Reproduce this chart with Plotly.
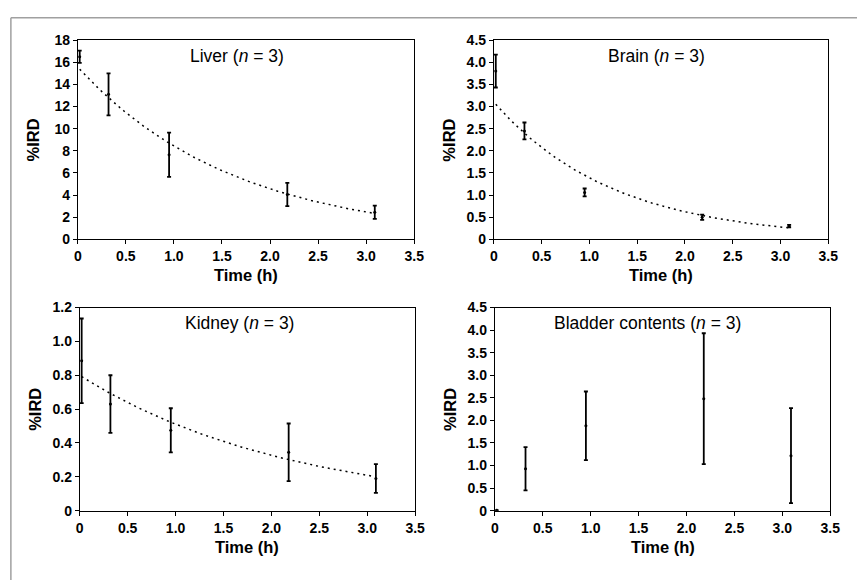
import numpy as np
import plotly.graph_objects as go

# sampling times (h), same for every organ
time_h = [0.02, 0.32, 0.95, 2.18, 3.09]

liver_ird = [16.5, 13.1, 7.65, 4.05, 2.45]
liver_err = [0.55, 1.9, 2.0, 1.05, 0.6]

brain_ird = [3.8, 2.45, 1.06, 0.5, 0.3]
brain_err = [0.37, 0.19, 0.09, 0.06, 0.03]

kidney_ird = [0.885, 0.63, 0.475, 0.345, 0.19]
kidney_err = [0.25, 0.17, 0.13, 0.17, 0.085]

bladder_ird = [0.01, 0.93, 1.88, 2.48, 1.22]
bladder_err = [0.0, 0.48, 0.76, 1.45, 1.05]

x_tickvals = [0, 0.5, 1.0, 1.5, 2.0, 2.5, 3.0, 3.5]
x_ticktext = ["0", "0.5", "1.0", "1.5", "2.0", "2.5", "3.0", "3.5"]

liver_ticks = [0, 2, 4, 6, 8, 10, 12, 14, 16, 18]
liver_ticktext = [str(v) for v in liver_ticks]
half_ticks = [0, 0.5, 1.0, 1.5, 2.0, 2.5, 3.0, 3.5, 4.0, 4.5]
half_ticktext = ["0", "0.5", "1.0", "1.5", "2.0", "2.5", "3.0", "3.5", "4.0", "4.5"]
kidney_ticks = [0, 0.2, 0.4, 0.6, 0.8, 1.0, 1.2]
kidney_ticktext = ["0", "0.2", "0.4", "0.6", "0.8", "1.0", "1.2"]

FONT = "Liberation Sans, Arial, sans-serif"
W, H = 857, 580

panels = [
    # name, y, err, trend, ymax, ticks, ticktext, px box (l, r, t, b), title x
    ("Liver", liver_ird, liver_err, True, 18, liver_ticks, liver_ticktext,
     (75, 417, 33, 238), 0.472),
    ("Brain", brain_ird, brain_err, True, 4.5, half_ticks, half_ticktext,
     (498, 838, 33, 238), 0.485),
    ("Kidney", kidney_ird, kidney_err, True, 1.2, kidney_ticks, kidney_ticktext,
     (77, 418, 308, 517), 0.475),
    ("Bladder contents", bladder_ird, bladder_err, False, 4.5, half_ticks,
     half_ticktext, (499, 840, 308, 517), 0.456),
]

fig = go.Figure()
layout = {}
annotations = []

for i, (name, ys, errs, trend, ymax, yt, ytt, box, tx) in enumerate(panels, start=1):
    xa = "x" if i == 1 else f"x{i}"
    ya = "y" if i == 1 else f"y{i}"
    l, r, t, b = box

    if trend:
        # Excel-style exponential trendline fitted on the data
        k, c = np.polyfit(time_h, np.log(ys), 1)
        tf = np.linspace(min(time_h), max(time_h), 80)
        fig.add_trace(
            go.Scatter(
                x=tf,
                y=np.exp(c) * np.exp(k * tf),
                mode="lines",
                line=dict(color="black", width=1.5, dash="2px,4px"),
                hoverinfo="skip",
                xaxis=xa,
                yaxis=ya,
            )
        )

    fig.add_trace(
        go.Scatter(
            x=time_h,
            y=ys,
            mode="markers",
            marker=dict(color="black", size=3),
            error_y=dict(
                type="data", array=errs, color="black", thickness=1.8, width=2
            ),
            xaxis=xa,
            yaxis=ya,
        )
    )

    axis_common = dict(
        showline=True,
        mirror=True,
        linecolor="black",
        linewidth=1,
        ticks="outside",
        ticklen=4,
        tickcolor="black",
        showgrid=False,
        zeroline=False,
        tickfont=dict(family=FONT, size=14, color="black", weight="bold"),
    )
    layout["xaxis" if i == 1 else f"xaxis{i}"] = dict(
        axis_common,
        domain=[l / W, r / W],
        range=[0, 3.5],
        tickvals=x_tickvals,
        ticktext=x_ticktext,
        anchor=ya,
    )
    layout["yaxis" if i == 1 else f"yaxis{i}"] = dict(
        axis_common,
        domain=[1 - b / H, 1 - t / H],
        range=[0, ymax],
        tickvals=yt,
        ticktext=ytt,
        anchor=xa,
    )
    annotations += [
        dict(
            text=f"{name} (<i>n</i> = 3)",
            xref=f"{xa} domain",
            yref=f"{ya} domain",
            x=tx,
            y=0.922,
            xanchor="center",
            yanchor="middle",
            showarrow=False,
            font=dict(family=FONT, size=17.5, color="black"),
        ),
        dict(
            text="<b>Time (h)</b>",
            xref=f"{xa} domain",
            yref=f"{ya} domain",
            x=0.5,
            y=0,
            yshift=-36,
            xanchor="center",
            yanchor="middle",
            showarrow=False,
            font=dict(family=FONT, size=16.5, color="black"),
        ),
        dict(
            text="<b>%IRD</b>",
            xref=f"{xa} domain",
            yref=f"{ya} domain",
            x=0,
            y=0.5,
            xshift=-45,
            textangle=-90,
            xanchor="center",
            yanchor="middle",
            showarrow=False,
            font=dict(family=FONT, size=16.5, color="black"),
        ),
    ]

fig.update_layout(
    **layout,
    annotations=annotations,
    width=W,
    height=H,
    margin=dict(l=0, r=0, t=0, b=0),
    showlegend=False,
    paper_bgcolor="white",
    plot_bgcolor="white",
    shapes=[
        dict(type="line", xref="paper", yref="paper", x0=7 / W, x1=1.02,
             y0=1 - 10 / H, y1=1 - 10 / H, line=dict(color="#a0a0a0", width=1.5)),
        dict(type="line", xref="paper", yref="paper", x0=7 / W, x1=7 / W,
             y0=-0.02, y1=1 - 10 / H, line=dict(color="#a0a0a0", width=1.5)),
    ],
)

fig.write_html(
    "out.html",
    config={"displayModeBar": False},
    post_script="document.body.style.margin='0';document.body.style.overflow='hidden';",
)
